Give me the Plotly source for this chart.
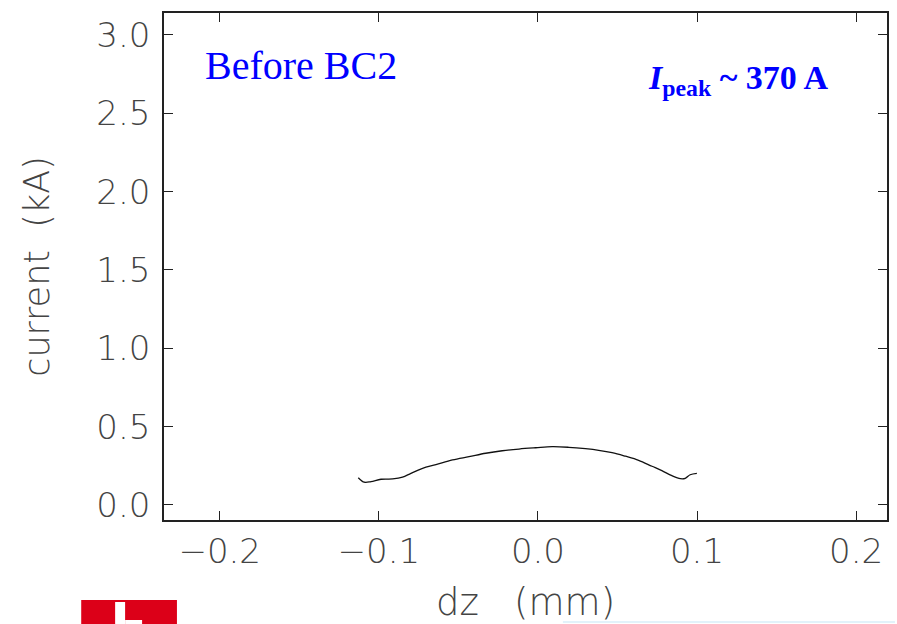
import plotly.graph_objects as go

dz_mm = [-0.1129, -0.1091, -0.1049, -0.0986, -0.0913, -0.0851, -0.0798, -0.0725, -0.0641,
         -0.0537, -0.0433, -0.0328, -0.0224, -0.0119, -0.0014, 0.0090, 0.0194, 0.0299,
         0.0382, 0.0466, 0.0550, 0.0633, 0.0717, 0.0779, 0.0842, 0.0895, 0.0926, 0.0957, 0.0999]
current_kA = [0.174, 0.145, 0.149, 0.164, 0.166, 0.177, 0.202, 0.234, 0.257,
              0.287, 0.308, 0.330, 0.346, 0.357, 0.365, 0.372, 0.368, 0.359,
              0.349, 0.334, 0.311, 0.285, 0.247, 0.219, 0.187, 0.168, 0.170, 0.193, 0.202]

x_ticks = [-0.2, -0.1, 0.0, 0.1, 0.2]
x_ticktext = ["\u22120.2", "\u22120.1", "0.0", "0.1", "0.2"]
y_ticks = [0.0, 0.5, 1.0, 1.5, 2.0, 2.5, 3.0]
y_ticktext = ["0.0", "0.5", "1.0", "1.5", "2.0", "2.5", "3.0"]

tickfont = dict(family="DejaVu Sans", size=34, color="#444444", weight=200)

fig = go.Figure()
fig.add_trace(go.Scatter(x=dz_mm, y=current_kA, mode="lines",
                         line=dict(color="#111111", width=1.3, shape="spline"),
                         showlegend=False, hoverinfo="skip"))

axis_common = dict(showgrid=False, zeroline=False, showline=True, linecolor="#222222",
                   linewidth=1.5, mirror="ticks", ticks="inside", ticklen=9,
                   tickwidth=1.3, tickcolor="#222222", tickfont=tickfont)

fig.update_layout(
    width=897, height=624,
    margin=dict(l=164, r=8, t=13, b=104),
    paper_bgcolor="white", plot_bgcolor="white",
    xaxis=dict(range=[-0.235, 0.2194], tickvals=x_ticks, ticktext=x_ticktext,
               title=dict(text="dz   (mm)", font=dict(family="DejaVu Sans", size=37, color="#444444", weight=200), standoff=20),
               **axis_common),
    yaxis=dict(range=[-0.096, 3.14], tickvals=y_ticks, ticktext=y_ticktext,
               ticklabelstandoff=5,
               title=dict(text="current  (kA)", font=dict(family="DejaVu Sans", size=35, color="#444444", weight=200), standoff=36),
               **axis_common),
    annotations=[
        dict(text="Before BC2", xref="paper", yref="paper", x=0.0538, y=0.897,
             xanchor="left", yanchor="middle", showarrow=False,
             font=dict(family="Liberation Serif", size=40, color="#0000ff")),
        dict(text="<b><i>I</i><sub>peak</sub> ~ 370 A</b>", xref="paper", yref="paper", x=0.921, y=0.868,
             xanchor="right", yanchor="middle", showarrow=False,
             font=dict(family="Liberation Serif", size=34, color="#0000ff")),
    ],
    shapes=[
        dict(type="rect", xref="paper", yref="paper", x0=-0.1145, x1=0.0179,
             y0=-0.2051, y1=-0.1578, fillcolor="#dc0018", line=dict(width=0), layer="above"),
        dict(type="rect", xref="paper", yref="paper", x0=-0.0676, x1=-0.0538,
             y0=-0.2051, y1=-0.1617, fillcolor="white", line=dict(width=0), layer="above"),
        dict(type="rect", xref="paper", yref="paper", x0=-0.0538, x1=-0.0303,
             y0=-0.2051, y1=-0.1972, fillcolor="white", line=dict(width=0), layer="above"),
        dict(type="line", xref="paper", yref="paper", x0=0.5517, x1=1.011,
             y0=-0.2012, y1=-0.2012, line=dict(color="#d8eef8", width=1.5), layer="above"),
    ],
)

fig.write_html("out.html")
